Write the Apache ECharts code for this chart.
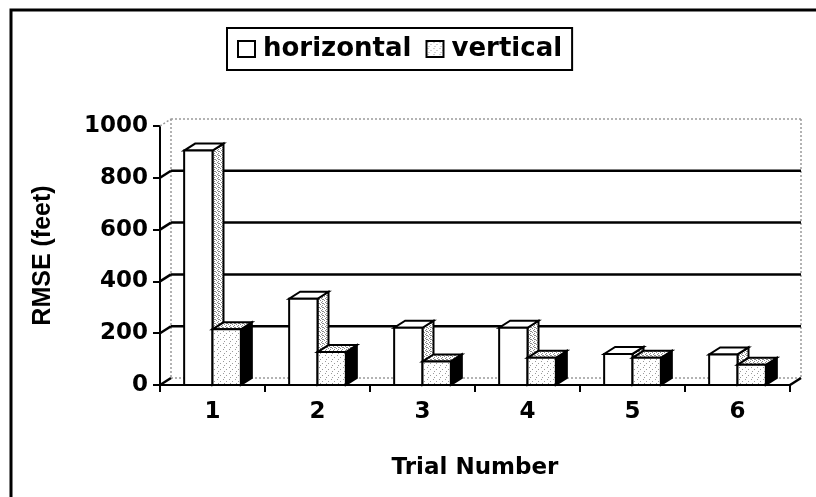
<!DOCTYPE html>
<html>
<head>
<meta charset="utf-8">
<script src="https://cdn.jsdelivr.net/npm/echarts@6/dist/echarts.min.js"></script>
<style>html,body{margin:0;padding:0;background:#fff;}#c{width:816px;height:497px;}</style>
</head>
<body>
<div id="c"></div>
<script>
const categories = ['1', '2', '3', '4', '5', '6'];
const horizontalValues = [905, 333, 221, 221, 120, 118];
const verticalValues = [215, 127, 91, 105, 105, 78];
const yTicks = [0, 200, 400, 600, 800, 1000];
const seriesNames = ['horizontal', 'vertical'];

const DX = 11, DY = -7;
const FONT = 'DejaVu Sans';

function makePattern(size, dots, dotColor) {
  const cv = document.createElement('canvas');
  cv.width = size; cv.height = size;
  const ctx = cv.getContext('2d');
  ctx.fillStyle = '#ffffff';
  ctx.fillRect(0, 0, size, size);
  ctx.fillStyle = dotColor;
  dots.forEach(d => ctx.fillRect(d[0], d[1], 1, 1));
  return { image: cv, repeat: 'repeat' };
}
const sparse = makePattern(6, [[1, 1], [4, 3], [2, 5]], '#9a9a9a');
const dense = makePattern(4, [[0, 0], [2, 1], [1, 2], [3, 3], [2, 3]], '#8a8a8a');

function barRender(leftSide, frontFill, topFill, sideFill) {
  return function (params, api) {
    const cat = api.value(0), v = api.value(1);
    const base = api.coord([cat, 0]);
    const top = api.coord([cat, v]);
    const band = api.size([1, 0])[0];
    const w = band * 0.27;
    const x0 = leftSide ? base[0] - w : base[0];
    const ty = top[1], by = base[1];
    const st = { stroke: '#000', lineWidth: 2, lineJoin: 'miter' };
    return {
      type: 'group',
      children: [
        { type: 'polygon', shape: { points: [[x0 + w, ty], [x0 + w + DX, ty + DY], [x0 + w + DX, by + DY], [x0 + w, by]] },
          style: Object.assign({ fill: sideFill }, st) },
        { type: 'polygon', shape: { points: [[x0, ty], [x0 + w, ty], [x0 + w + DX, ty + DY], [x0 + DX, ty + DY]] },
          style: Object.assign({ fill: topFill }, st) },
        { type: 'rect', shape: { x: x0, y: ty, width: w, height: by - ty },
          style: Object.assign({ fill: frontFill }, st) }
      ]
    };
  };
}

function wallRender(params, api) {
  const t = api.value(1);
  const cs = params.coordSys;
  const y = api.coord([0, t])[1];
  const x0 = cs.x, x1 = cs.x + cs.width;
  const isEdge = (t === yTicks[yTicks.length - 1]);
  const black = { stroke: '#000', lineWidth: 2.5 };
  const gray = { stroke: '#9a9a9a', lineWidth: 1.5, lineDash: [2, 2] };
  const children = [];
  const backStyle = (t === 0 || isEdge) ? gray : black;
  children.push({ type: 'line', shape: { x1: x0 + DX, y1: y + DY, x2: x1 + DX, y2: y + DY }, style: backStyle });
  children.push({ type: 'line', shape: { x1: x0, y1: y, x2: x0 + DX, y2: y + DY }, style: isEdge ? gray : black });
  if (t === 0) {
    const yTop = cs.y;
    children.push({ type: 'line', shape: { x1: x1, y1: y, x2: x1 + DX, y2: y + DY }, style: black });
    children.push({ type: 'line', shape: { x1: x0 + DX, y1: yTop + DY, x2: x0 + DX, y2: y + DY }, style: gray });
    children.push({ type: 'line', shape: { x1: x1 + DX, y1: yTop + DY, x2: x1 + DX, y2: y + DY }, style: gray });
  }
  return { type: 'group', children: children };
}

const chart = echarts.init(document.getElementById('c'), null, { renderer: 'canvas' });
chart.setOption({
  animation: false,
  backgroundColor: '#fff',
  graphic: [{
    type: 'rect', silent: true, z: -10,
    shape: { x: 11, y: 10, width: 900, height: 600 },
    style: { fill: 'none', stroke: '#000', lineWidth: 3 }
  }],
  legend: {
    left: 227, top: 28,
    orient: 'horizontal',
    borderColor: '#000', borderWidth: 2,
    padding: [8, 10, 8, 10],
    itemGap: 14, itemWidth: 17, itemHeight: 16,
    icon: 'rect',
    textStyle: { fontFamily: FONT, fontWeight: 'bold', fontSize: 26, color: '#000', padding: [0, 0, 0, 3] },
    data: [
      { name: seriesNames[0], itemStyle: { color: '#fff', borderColor: '#000', borderWidth: 2 } },
      { name: seriesNames[1], itemStyle: { color: sparse, borderColor: '#000', borderWidth: 2 } }
    ]
  },
  grid: { left: 160, right: 26, top: 126, bottom: 112 },
  xAxis: {
    type: 'category',
    data: categories,
    boundaryGap: true,
    axisLine: { show: true, lineStyle: { color: '#000', width: 2 } },
    axisTick: { show: true, length: 7, lineStyle: { color: '#000', width: 2 } },
    axisLabel: { margin: 16, fontFamily: FONT, fontWeight: 'bold', fontSize: 23, color: '#000' },
    name: 'Trial Number',
    nameLocation: 'middle',
    nameGap: 72,
    nameTextStyle: { fontFamily: FONT, fontWeight: 'bold', fontSize: 23, color: '#000' },
    splitLine: { show: false }
  },
  yAxis: {
    type: 'value',
    min: 0, max: 1000, interval: 200,
    axisLine: { show: true, lineStyle: { color: '#000', width: 2 } },
    axisTick: { show: true, length: 7, lineStyle: { color: '#000', width: 2 } },
    axisLabel: { margin: 12, fontFamily: FONT, fontWeight: 'bold', fontSize: 23, color: '#000',
      formatter: function (v) { return String(v); } },
    splitLine: { show: false },
    name: 'RMSE (feet)',
    nameLocation: 'middle',
    nameGap: 104,
    nameRotate: 90,
    nameTextStyle: { fontFamily: 'Liberation Sans', fontWeight: 'bold', fontSize: 25, color: '#000' }
  },
  series: [
    {
      name: 'walls', type: 'custom', silent: true, legendHoverLink: false,
      renderItem: wallRender,
      data: yTicks.map(t => [0, t]),
      z: 1
    },
    {
      name: seriesNames[0], type: 'custom',
      renderItem: barRender(true, '#fff', '#fff', dense),
      itemStyle: { color: '#fff', borderColor: '#000', borderWidth: 2 },
      data: horizontalValues.map((v, i) => [i, v]),
      z: 2
    },
    {
      name: seriesNames[1], type: 'custom',
      renderItem: barRender(false, sparse, dense, '#000'),
      itemStyle: { color: sparse, borderColor: '#000', borderWidth: 2 },
      data: verticalValues.map((v, i) => [i, v]),
      z: 3
    }
  ]
});
</script>
</body>
</html>
